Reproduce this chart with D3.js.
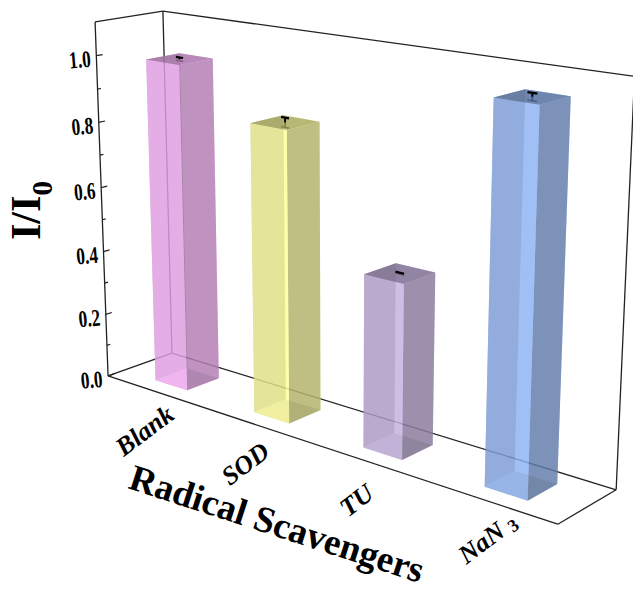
<!DOCTYPE html>
<html><head><meta charset="utf-8">
<style>html,body{margin:0;padding:0;background:#fff}svg{display:block}text{font-family:"Liberation Serif",serif;font-weight:bold;fill:#000}</style>
<script src="https://cdn.jsdelivr.net/npm/d3@7"></script>
</head><body><svg width="633" height="593"></svg>
<script>
const categories = ["Blank","SOD","TU","NaN"];
const values = [0.995,0.863,0.503,1.043];
const errors = [0.005,0.014,0.002,0.01];
const barColors = ["#ffb4ff","#ffff99","#c5b0e0","#8eb2f3"];
const majorTicks = [0,0.2,0.4,0.6,0.8,1.0];
const minorTicks = [0.1,0.3,0.5,0.7,0.9];
const yMax = 1.1;

// camera calibration: unit-cube corner -> picture position
const calib = [[0,0,0,108,376],[0,1,0,172,353],[1,0,0,558,524],[1,1,0,616,490],
               [0,0,1,95,22],[0,1,1,163,11],[1,1,1,634.5,76.3]];
function solveCamera(pts){
  const A=[],b=[];
  pts.forEach(([x,y,z,px,py])=>{
    A.push([x,y,z,1,0,0,0,0,-px*x,-px*y,-px*z]);b.push(px);
    A.push([0,0,0,0,x,y,z,1,-py*x,-py*y,-py*z]);b.push(py);
  });
  const n=11,M=d3.range(n).map(i=>d3.range(n+1).map(j=>{
    let s=0;A.forEach((r,k)=>{s+=r[i]*(j<n?r[j]:b[k]);});return s;}));
  for(let i=0;i<n;i++){
    let p=i;for(let r=i+1;r<n;r++)if(Math.abs(M[r][i])>Math.abs(M[p][i]))p=r;
    [M[i],M[p]]=[M[p],M[i]];
    for(let r=0;r<n;r++)if(r!==i){const f=M[r][i]/M[i][i];for(let c=i;c<=n;c++)M[r][c]-=f*M[i][c];}
  }
  return d3.range(n).map(i=>M[i][n]/M[i][i]);
}
const P=solveCamera(calib);
function proj(u,v,w){
  const d=P[8]*u+P[9]*v+P[10]*w+1;
  return [(P[0]*u+P[1]*v+P[2]*w+P[3])/d,(P[4]*u+P[5]*v+P[6]*w+P[7])/d];
}
const xScale=d3.scaleBand().domain(categories).range([0,1]).paddingInner(0.67).paddingOuter(0.335);
const zScale=d3.scaleLinear().domain([0,yMax]).range([0,1]);
const depth=[0.25,0.75];
const svg=d3.select("svg");
const line=d3.line();
const path3=(pts,close)=>line(pts.map(p=>proj(...p)))+(close?"Z":"");

// frame
const frame=[[[0,0,0],[1,0,0]],[[1,0,0],[1,1,0]],[[1,1,0],[0,1,0]],[[0,1,0],[0,0,0]],
 [[0,0,0],[0,0,1]],[[0,0,1],[0,1,1]],[[0,1,1],[0,1,0]],[[0,1,1],[1,1,1]],[[1,1,1],[1,1,0]]];
svg.append("g").selectAll("path").data(frame).join("path").attr("d",d=>path3(d))
  .attr("fill","none").attr("stroke","#222").attr("stroke-width",1.3);

// y ticks
const tg=svg.append("g").attr("stroke","#222").attr("fill","none").attr("stroke-width",1.2);
tg.selectAll(".maj").data(majorTicks).join("path").attr("class","maj").attr("d",t=>path3([[0,0,zScale(t)],[0,0.09,zScale(t)]]));
tg.selectAll(".min").data(minorTicks).join("path").attr("class","min").attr("d",t=>path3([[0,0,zScale(t)],[0,0.05,zScale(t)]]));

// bars
const alpha=0.6;
function poly(g,pts,col,op){g.append("path").attr("d",path3(pts,true)).attr("fill",col).attr("fill-opacity",op);}
function shade(c,k){const r=d3.rgb(c);return d3.rgb(r.r*k,r.g*k,r.b*k).formatHex();}
function errBar(g,u,lo,hi,capLo,capHi){
  const v=0.5,cw=0.009;
  g.append("path").attr("d",path3([[u,v,lo],[u,v,hi]])).attr("stroke","#000").attr("stroke-width",2).attr("fill","none");
  if(capLo)g.append("path").attr("d",path3([[u-cw,v,lo],[u+cw,v,lo]])).attr("stroke","#000").attr("stroke-width",1.6).attr("fill","none");
  if(capHi)g.append("path").attr("d",path3([[u-cw,v,hi],[u+cw,v,hi]])).attr("stroke","#000").attr("stroke-width",2.2).attr("fill","none");
}
categories.forEach((cat,i)=>{
  const g=svg.append("g"),u0=xScale(cat),u1=u0+xScale.bandwidth(),[v0,v1]=depth,
    z=zScale(values[i]),c=barColors[i],d=shade(c,0.58),uc=(u0+u1)/2;
  poly(g,[[u0,v0,0],[u1,v0,0],[u1,v1,0],[u0,v1,0]],shade(c,0.75),alpha);
  poly(g,[[u0,v1,0],[u1,v1,0],[u1,v1,z],[u0,v1,z]],c,alpha);
  poly(g,[[u0,v0,0],[u0,v1,0],[u0,v1,z],[u0,v0,z]],d,alpha);
  errBar(g,uc,zScale(values[i]-errors[i]),zScale(values[i]),true,false);
  poly(g,[[u1,v0,0],[u1,v1,0],[u1,v1,z],[u1,v0,z]],d,alpha);
  poly(g,[[u0,v0,0],[u1,v0,0],[u1,v0,z],[u0,v0,z]],c,alpha);
  poly(g,[[u0,v0,z],[u1,v0,z],[u1,v1,z],[u0,v1,z]],shade(c,0.65),0.8);
  errBar(g,uc,z,zScale(values[i]+errors[i]),false,true);
});

// y tick labels
const tickAnchor=t=>proj(0,0,zScale(t));
svg.append("g").selectAll("text").data(majorTicks).join("text")
  .attr("transform",t=>{const [x,y]=tickAnchor(t);return `translate(${x-5},${y+11}) rotate(-5) scale(0.72,1)`;})
  .attr("text-anchor","end").attr("font-size",24).text(t=>t.toFixed(1));

// category labels
const catG=svg.append("g");
categories.forEach((cat,i)=>{
  const uc=xScale(cat)+xScale.bandwidth()/2,[x,y]=proj(uc,0,0);
  const isNa=cat==="NaN";
  const t=catG.append("text").attr("transform",`translate(${x-5+(isNa?7:0)},${y+46-(isNa?3:0)}) rotate(-37)`)
    .attr("text-anchor","middle").attr("font-size",26).attr("font-style","italic").text(cat);
  if(isNa) t.append("tspan").attr("dx",6).attr("dy",3).attr("font-size",18).attr("font-style","normal").text("3");
});

// axis titles
svg.append("text").attr("transform","translate(127,488) rotate(18)").attr("font-size",37).text("Radical Scavengers");
const yt=svg.append("text").attr("transform","translate(40,240) rotate(-90)").attr("font-size",42).text("I/I");
yt.append("tspan").attr("dy",12).attr("font-size",30).text("0");
</script></body></html>
